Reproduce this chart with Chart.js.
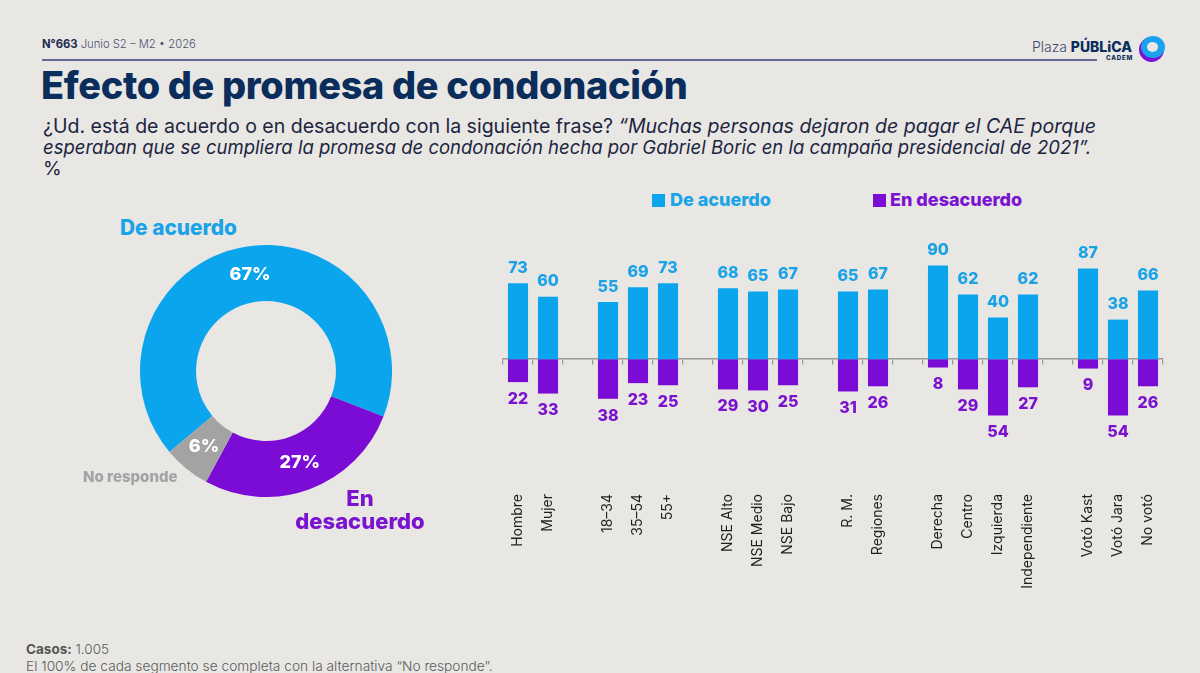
<!DOCTYPE html>
<html>
<head>
<meta charset="utf-8">
<script src="https://cdn.jsdelivr.net/npm/chart.js@4.4.1/dist/chart.umd.min.js"></script>
<style>
  html,body{margin:0;padding:0;}
  body{width:1200px;height:673px;background:#E8E7E4;position:relative;overflow:hidden;font-family:Inter,"Noto Sans",sans-serif;}
  .abs{position:absolute;white-space:nowrap;}
  #meta{left:42px;top:37px;font-size:12px;color:#4a5270;font-weight:300;}
  #meta b{font-weight:700;color:#1d2b4f;}
  #rule{left:42px;top:59px;width:1055px;height:2px;background:#666b93;}
  #title{left:41px;top:62px;font-size:40px;font-weight:800;color:#0B2D5B;letter-spacing:-0.3px;}
  .sub{left:43px;font-size:19px;color:#1c2540;font-weight:400;}
  .sub i{font-style:italic;}
  #s1{top:114px;} #s2{top:136px;} #s3{top:157px;}
  #logo{left:1032px;top:40px;font-size:14px;line-height:14px;color:#3d4a6b;}
  #logo .pl{font-weight:300;}
  #logo .pu{font-weight:800;color:#0B2D5B;}
  #cadem{left:1106px;top:54px;font-size:6.5px;line-height:7px;font-weight:800;color:#0B2D5B;letter-spacing:0.8px;}
  #ic1{left:1139px;top:37px;width:25px;height:25px;border-radius:50%;background:#7a12d6;}
  #ic2{left:1141px;top:36px;width:24px;height:22px;border-radius:50%;background:#1aa3ec;}
  #ic3{left:1147px;top:42px;width:11px;height:10px;border-radius:50%;background:#E8E7E4;}
  .dl{font-weight:800;font-size:21px;}
  #dA{left:120px;top:215px;color:#1AA3E6;}
  #dN{left:83px;top:467px;color:#A3A3A3;font-size:15px;}
  #dE{left:290px;top:487px;color:#7A12D0;text-align:center;width:140px;line-height:23px;white-space:normal;font-size:22px;}
  .lg{font-weight:800;font-size:18px;top:189px;}
  .sq{width:13px;height:13px;top:194px;}
  #lgA{left:670px;color:#1AA3E6;} #sqA{left:652px;background:#0AA5EC;}
  #lgE{left:890px;color:#7A12D0;} #sqE{left:873px;background:#7A0CD6;}
  #foot{left:26px;top:641px;font-size:13.5px;line-height:17px;color:#5a5a5a;font-weight:300;}
  #foot b{font-weight:700;color:#555;}
  #donutWrap{position:absolute;left:140px;top:245px;width:252px;height:252px;}
  #barWrap{position:absolute;left:490px;top:225px;width:690px;height:395px;}
</style>
</head>
<body>
<div class="abs" id="meta" data-w="154"><b>N°663</b> Junio S2 – M2 • 2026</div>
<div class="abs" id="rule"></div>
<div class="abs" id="title" data-w="647">Efecto de promesa de condonación</div>
<div class="abs sub" id="s1" data-w="1054">¿Ud. está de acuerdo o en desacuerdo con la siguiente frase? <i>“Muchas personas dejaron de pagar el CAE porque</i></div>
<div class="abs sub" id="s2" data-w="1049"><i>esperaban que se cumpliera la promesa de condonación hecha por Gabriel Boric en la campaña presidencial de 2021”.</i></div>
<div class="abs sub" id="s3">%</div>
<div class="abs" id="logo" data-w="100"><span class="pl">Plaza</span> <span class="pu">PÚBLiCA</span></div>
<div class="abs" id="cadem" data-w="27">CADEM</div>
<div class="abs" id="ic1"></div><div class="abs" id="ic2"></div><div class="abs" id="ic3"></div>

<div id="donutWrap"><canvas id="donut"></canvas></div>
<div class="abs dl" id="dA" data-w="117">De acuerdo</div>
<div class="abs dl" id="dN">No responde</div>
<div class="abs dl" id="dE">En<br>desacuerdo</div>

<div class="abs sq" id="sqA"></div><div class="abs lg" id="lgA">De acuerdo</div>
<div class="abs sq" id="sqE"></div><div class="abs lg" id="lgE">En desacuerdo</div>

<div id="barWrap"><canvas id="bars"></canvas></div>

<div class="abs" id="foot"><b>Casos:</b> 1.005<br><span id="f2" data-w="467">El 100% de cada segmento se completa con la alternativa “No responde”.</span></div>

<script>
// ---------- DATA ----------
const donutLabels = ['De acuerdo', 'En desacuerdo', 'No responde'];
const donutValues = [67, 27, 6];

const categories = ['Hombre','Mujer','','18–34','35–54','55+','','NSE Alto','NSE Medio','NSE Bajo','','R. M.','Regiones','','Derecha','Centro','Izquierda','Independiente','','Votó Kast','Votó Jara','No votó'];
const deAcuerdo   = [73, 60, null, 55, 69, 73, null, 68, 65, 67, null, 65, 67, null, 90, 62, 40, 62, null, 87, 38, 66];
const enDesacuerdo = [22, 33, null, 38, 23, 25, null, 29, 30, 25, null, 31, 26, null, 8, 29, 54, 27, null, 9, 54, 26];

// ---------- COLORS ----------
const BLUE = '#0AA5EC', PURPLE = '#7A0CD6', GRAY = '#A3A3A3';
const BLUE_TXT = '#1AA3E6', PURPLE_TXT = '#7A12D0';

// fit text widths
document.querySelectorAll('[data-w]').forEach(el => {
  const target = +el.dataset.w;
  const fs = parseFloat(getComputedStyle(el).fontSize);
  const w = el.getBoundingClientRect().width;
  el.style.fontSize = (fs * target / w) + 'px';
});

// ---------- DONUT ----------
const donutLabelPlugin = {
  id: 'donutLabels',
  afterDatasetsDraw(chart) {
    const ctx = chart.ctx;
    const meta = chart.getDatasetMeta(0);
    ctx.save();
    ctx.fillStyle = '#fff';
    ctx.font = '800 18px Inter, sans-serif';
    ctx.textAlign = 'center';
    ctx.textBaseline = 'middle';
    meta.data.forEach((arc, i) => {
      const p = arc.tooltipPosition();
      ctx.fillText(donutValues[i] + '%', p.x, p.y);
    });
    ctx.restore();
  }
};
new Chart(document.getElementById('donut'), {
  type: 'doughnut',
  data: { labels: donutLabels, datasets: [{ data: donutValues, backgroundColor: [BLUE, PURPLE, GRAY], borderWidth: 0 }] },
  options: {
    responsive: true, maintainAspectRatio: false, animation: false,
    rotation: 230, cutout: '55.5%',
    plugins: { legend: { display: false }, tooltip: { enabled: false } }
  },
  plugins: [donutLabelPlugin]
});

// ---------- BARS ----------
const barLabelPlugin = {
  id: 'barLabels',
  afterDatasetsDraw(chart) {
    const ctx = chart.ctx;
    ctx.save();
    ctx.font = '800 16px Inter, sans-serif';
    ctx.textAlign = 'center';
    ctx.textBaseline = 'middle';
    chart.data.datasets.forEach((ds, di) => {
      const meta = chart.getDatasetMeta(di);
      meta.data.forEach((el, i) => {
        const v = ds.data[i];
        if (v === null || v === undefined) return;
        if (v >= 0) { ctx.fillStyle = BLUE_TXT; ctx.fillText(String(v), el.x, el.y - 15); }
        else { ctx.fillStyle = PURPLE_TXT; ctx.fillText(String(-v), el.x, el.y + 17); }
      });
    });
    ctx.restore();
  }
};
new Chart(document.getElementById('bars'), {
  type: 'bar',
  data: {
    labels: categories,
    datasets: [
      { label: 'De acuerdo', data: deAcuerdo, backgroundColor: BLUE, barPercentage: 0.67, categoryPercentage: 1 },
      { label: 'En desacuerdo', data: enDesacuerdo.map(v => v === null ? null : -v), backgroundColor: PURPLE, barPercentage: 0.67, categoryPercentage: 1 }
    ]
  },
  options: {
    responsive: true, maintainAspectRatio: false, animation: false,
    layout: { padding: { top: 30, left: 13, right: 17, bottom: 0 } },
    plugins: { legend: { display: false }, tooltip: { enabled: false } },
    scales: {
      y: { stacked: true, min: -115, max: 100, display: false },
      x: {
        stacked: true, position: { y: 0 }, offset: true,
        ticks: { display: false },
        grid: { drawOnChartArea: false, drawTicks: true, tickLength: 5, color: '#9a9a9a', lineWidth: 1.2, offset: true },
        border: { display: true, color: '#9a9a9a', width: 1.5 }
      },
      x2: {
        type: 'category', position: 'bottom', offset: true,
        grid: { display: false }, border: { display: false },
        ticks: { autoSkip: false, minRotation: 90, maxRotation: 90, padding: 7, color: '#1f1f1f', font: { family: 'Inter, sans-serif', size: 14, weight: 400 } },
        afterFit(s) { s.height = 141; }
      }
    }
  },
  plugins: [barLabelPlugin]
});
</script>
</body>
</html>
